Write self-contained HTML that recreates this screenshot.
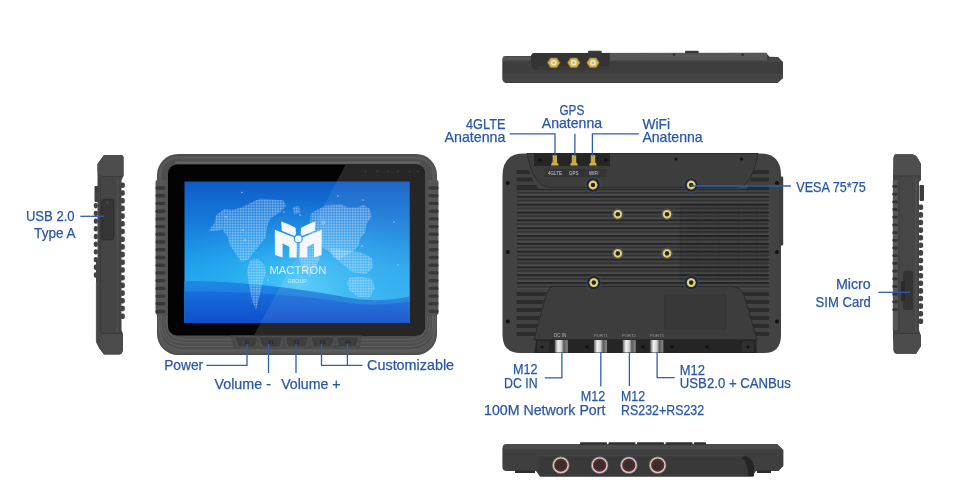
<!DOCTYPE html>
<html><head><meta charset="utf-8"><title>Rugged Tablet</title>
<style>
html,body{margin:0;padding:0;background:#fff;width:975px;height:501px;overflow:hidden}
svg{display:block}
text{font-family:"Liberation Sans",sans-serif;font-size:14.5px;fill:#2857aa}
.lbl text{stroke:#2857aa;stroke-width:0.25px}
svg{will-change:transform}
</style></head><body>
<svg width="975" height="501" viewBox="0 0 975 501">
<defs>
  <pattern id="dots" x="0" y="0" width="1.6" height="1.6" patternUnits="userSpaceOnUse">
    <rect width="1.6" height="1.6" fill="#9fd6ff" fill-opacity="0.1"/>
    <rect width="1" height="1" fill="#e4f4ff" fill-opacity="0.55"/>
  </pattern>
  <radialGradient id="glow" cx="300" cy="285" r="110" gradientUnits="userSpaceOnUse" gradientTransform="translate(300 285) scale(1.2 0.8) translate(-300 -285)">
    <stop offset="0" stop-color="#5fd8ff" stop-opacity="0.75"/>
    <stop offset="0.5" stop-color="#38bdf8" stop-opacity="0.35"/>
    <stop offset="1" stop-color="#2aa0f0" stop-opacity="0"/>
  </radialGradient>
  <linearGradient id="wave1" x1="0" y1="280" x2="0" y2="323" gradientUnits="userSpaceOnUse">
    <stop offset="0" stop-color="#1f8ae4"/>
    <stop offset="1" stop-color="#1668d8"/>
  </linearGradient>
  <linearGradient id="wave2" x1="0" y1="290" x2="0" y2="323" gradientUnits="userSpaceOnUse">
    <stop offset="0" stop-color="#1770dc"/>
    <stop offset="1" stop-color="#0f4fcb"/>
  </linearGradient>
  <linearGradient id="scr" x1="0" y1="0" x2="0" y2="1">
    <stop offset="0" stop-color="#0e5cc6"/>
    <stop offset="0.3" stop-color="#177ddb"/>
    <stop offset="0.6" stop-color="#20a2ec"/>
    <stop offset="1" stop-color="#28b6f4"/>
  </linearGradient>
  <linearGradient id="frameG" x1="0" y1="0" x2="0" y2="1">
    <stop offset="0" stop-color="#4a4a4a"/>
    <stop offset="1" stop-color="#525252"/>
  </linearGradient>
  <pattern id="ribs" x="0" y="188" width="10" height="7.72" patternUnits="userSpaceOnUse">
    <rect x="0" y="0" width="10" height="7.72" fill="#5a5a5a"/>
    <rect x="0" y="1.5" width="10" height="3.2" rx="1.6" fill="#3a3a3a"/>
  </pattern>
  <pattern id="vent" x="0" y="0.1" width="10" height="7.83" patternUnits="userSpaceOnUse">
    <rect width="10" height="7.83" fill="#4d4d4d"/>
    <rect y="0" width="10" height="1.9" fill="#232323"/>
    <rect y="1.9" width="10" height="0.7" fill="#3a3a3a"/>
    <rect y="3.5" width="10" height="0.6" fill="#3a3a3a"/>
    <rect y="4.1" width="10" height="1.4" fill="#2a2a2a"/>
    <rect y="5.5" width="10" height="0.6" fill="#3c3c3c"/>
  </pattern>
  <linearGradient id="cyl" x1="0" y1="0" x2="1" y2="0">
    <stop offset="0" stop-color="#6a6a6a"/>
    <stop offset="0.25" stop-color="#f2f2f2"/>
    <stop offset="0.5" stop-color="#cfcfcf"/>
    <stop offset="0.7" stop-color="#5a5a5a"/>
    <stop offset="1" stop-color="#8a8a8a"/>
  </linearGradient>
</defs>

<!-- ============ TOP VIEW (antennas) ============ -->
<g id="topview">
  <path d="M506 56 L531 56 L533 53 L766 52.7 L769.5 56.7 L778 57 L783 62 L783 78 L777.5 83 L507 83 Q502.3 83 502.3 78 L502.3 60 Q502.3 56 506 56 Z" fill="#3e3e3e"/>
  <rect x="503" y="56.5" width="30" height="4" fill="#545454"/>
  <rect x="609" y="53" width="158" height="7.5" fill="#575757"/>
  <path d="M769.5 57 L778 57.3 L782.5 62 L769.5 62 Z" fill="#474747"/>
  <rect x="503" y="60.5" width="278" height="1" fill="#4a4a4a"/>
  <path d="M503 74.5 H783 V78 L777.5 82.8 H507 Q503 82.8 503 78 Z" fill="#454545"/>
  <rect x="503" y="74.3" width="279" height="0.7" fill="#4c4c4c"/>
  <path d="M535 53 L609.7 53 L609.7 70 L538 70 Q531 70 531 63 L531 57 Q531 53 535 53 Z" fill="#343434"/>
  <path d="M538 66 L609.7 66 L609.7 70 L538 70 Z" fill="#3a3a3a"/>
  <rect x="588" y="50.7" width="13.7" height="2.8" rx="1" fill="#3a3a3a"/>
  <rect x="685" y="50.7" width="13.7" height="2.8" rx="1" fill="#3a3a3a"/>
  <g fill="#2a2a2a"><circle cx="674" cy="54.6" r="1.2"/><circle cx="742.7" cy="54.8" r="1.2"/></g>
  <g fill="#d2b24c" stroke="#9a7c2c" stroke-width="0.7"><polygon points="559.9,62.7 556.8,67.4 550.6,67.4 547.5,62.7 550.6,58.0 556.8,58.0"/><polygon points="579.9,62.7 576.8,67.4 570.6,67.4 567.5,62.7 570.6,58.0 576.8,58.0"/><polygon points="599.2,62.7 596.1,67.4 589.9,67.4 586.8,62.7 589.9,58.0 596.1,58.0"/></g>
  <g fill="#ece6c8"><circle cx="553.7" cy="62.7" r="2.9"/><circle cx="573.7" cy="62.7" r="2.9"/><circle cx="593" cy="62.7" r="2.9"/></g>
  <g fill="#b9b4a8"><circle cx="553.7" cy="62.7" r="1.3"/><circle cx="573.7" cy="62.7" r="1.3"/><circle cx="593" cy="62.7" r="1.3"/></g>
</g>

<!-- ============ BOTTOM VIEW (M12) ============ -->
<g id="botview">
  <path d="M507 444 H777 L783.4 450 V466 L778.5 471 H756 L752 476.5 H540 L536 471 H507 Q502.4 471 502.4 467 V449 Q502.4 444 507 444 Z" fill="#3f3f3f"/>
  <path d="M507 444 H777 L782.5 449.5 H502.8 V448 Q503 444 507 444 Z" fill="#4b4b4b"/>
  <g fill="#303030"><rect x="580" y="442.3" width="27" height="2.5" rx="0.8"/><rect x="608.5" y="442.3" width="27" height="2.5" rx="0.8"/><rect x="637" y="442.3" width="27" height="2.5" rx="0.8"/><rect x="665.5" y="442.3" width="27" height="2.5" rx="0.8"/><rect x="694" y="442.3" width="12" height="2.5" rx="0.8"/></g>
  <path d="M542 455.8 H744 Q753 455.8 754 465 L754 476.5 H540 L538.5 471 V459 Q538.5 455.8 542 455.8 Z" fill="#393939"/>
  <path d="M542 455.8 H744" stroke="#474747" stroke-width="0.8"/>
  <path d="M744 456 Q752 457 754 466 L754 476 L748 476 Q748 462 742 458 Z" fill="#252525"/>
  <g fill="#2c2c2c"><rect x="515" y="470.5" width="20" height="2.5"/><rect x="757" y="470.5" width="14" height="2.5"/></g>
  <g fill="#8a8a8a"><circle cx="560.8" cy="465.2" r="8.6"/><circle cx="599.6" cy="465.2" r="8.6"/><circle cx="628.8" cy="465.2" r="8.6"/><circle cx="657.7" cy="465.2" r="8.6"/></g>
  <g fill="#d6d6d6"><circle cx="560.8" cy="465.2" r="7.8"/><circle cx="599.6" cy="465.2" r="7.8"/><circle cx="628.8" cy="465.2" r="7.8"/><circle cx="657.7" cy="465.2" r="7.8"/></g>
  <g fill="#6e2222"><circle cx="560.8" cy="465.2" r="6.6"/><circle cx="599.6" cy="465.2" r="6.6"/><circle cx="628.8" cy="465.2" r="6.6"/><circle cx="657.7" cy="465.2" r="6.6"/></g>
  <g fill="#3a3434"><circle cx="560.8" cy="465.2" r="4.9"/><circle cx="599.6" cy="465.2" r="4.9"/><circle cx="628.8" cy="465.2" r="4.9"/><circle cx="657.7" cy="465.2" r="4.9"/></g>
  <g fill="#1e1e1e"><circle cx="563.8" cy="465.2" r="0.6"/><circle cx="562.9" cy="467.3" r="0.6"/><circle cx="560.8" cy="468.2" r="0.6"/><circle cx="558.7" cy="467.3" r="0.6"/><circle cx="557.8" cy="465.2" r="0.6"/><circle cx="558.7" cy="463.1" r="0.6"/><circle cx="560.8" cy="462.2" r="0.6"/><circle cx="562.9" cy="463.1" r="0.6"/><circle cx="560.8" cy="465.2" r="0.6"/><circle cx="602.6" cy="465.2" r="0.6"/><circle cx="601.7" cy="467.3" r="0.6"/><circle cx="599.6" cy="468.2" r="0.6"/><circle cx="597.5" cy="467.3" r="0.6"/><circle cx="596.6" cy="465.2" r="0.6"/><circle cx="597.5" cy="463.1" r="0.6"/><circle cx="599.6" cy="462.2" r="0.6"/><circle cx="601.7" cy="463.1" r="0.6"/><circle cx="599.6" cy="465.2" r="0.6"/><circle cx="631.8" cy="465.2" r="0.6"/><circle cx="630.9" cy="467.3" r="0.6"/><circle cx="628.8" cy="468.2" r="0.6"/><circle cx="626.7" cy="467.3" r="0.6"/><circle cx="625.8" cy="465.2" r="0.6"/><circle cx="626.7" cy="463.1" r="0.6"/><circle cx="628.8" cy="462.2" r="0.6"/><circle cx="630.9" cy="463.1" r="0.6"/><circle cx="628.8" cy="465.2" r="0.6"/><circle cx="660.7" cy="465.2" r="0.6"/><circle cx="659.8" cy="467.3" r="0.6"/><circle cx="657.7" cy="468.2" r="0.6"/><circle cx="655.6" cy="467.3" r="0.6"/><circle cx="654.7" cy="465.2" r="0.6"/><circle cx="655.6" cy="463.1" r="0.6"/><circle cx="657.7" cy="462.2" r="0.6"/><circle cx="659.8" cy="463.1" r="0.6"/><circle cx="657.7" cy="465.2" r="0.6"/></g>
</g>

<!-- ============ LEFT SIDE VIEW ============ -->
<g id="leftside">
  <path d="M104 155 L121 155 Q123.5 155 123.5 158 L123.5 176 L121.5 180 L121.5 330 L123 334 L123 350 Q122 354.5 119 354.5 L104 354.5 L99 348 L96 342 L96 262 L97.5 258 L97.5 178 L97.5 164 Z" fill="#454545"/>
  <path d="M104 155 L121 155 Q123.5 155 123.5 158 L123.5 176 L102 176 L97.5 172 L97.5 164 Z" fill="#4d4d4d"/>
  <path d="M101.5 176.5 H123" stroke="#383838" stroke-width="0.8"/>
  <path d="M102 334 H121 L123 336 L123 350 Q122 354.5 119 354.5 L104 354.5 L99 348 Z" fill="#4b4b4b"/>
  <path d="M101.5 333.5 H122" stroke="#383838" stroke-width="0.8"/>
  <path d="M100.5 178 V332" stroke="#3a3a3a" stroke-width="1"/>
  <path d="M96.5 282 V342" stroke="#575757" stroke-width="1.2"/>
  <path d="M117.5 178 V332" stroke="#4d4d4d" stroke-width="2"/>
  <rect x="94.5" y="186" width="4" height="16" rx="1" fill="#3e3e3e"/>
  <g fill="#424242"><rect x="120.5" y="182.5" width="4.3" height="5.6" rx="1.8"/><rect x="120.5" y="190.2" width="4.3" height="5.6" rx="1.8"/><rect x="120.5" y="197.9" width="4.3" height="5.6" rx="1.8"/><rect x="120.5" y="205.6" width="4.3" height="5.6" rx="1.8"/><rect x="120.5" y="213.3" width="4.3" height="5.6" rx="1.8"/><rect x="120.5" y="221.0" width="4.3" height="5.6" rx="1.8"/><rect x="120.5" y="228.7" width="4.3" height="5.6" rx="1.8"/><rect x="120.5" y="236.4" width="4.3" height="5.6" rx="1.8"/><rect x="120.5" y="244.1" width="4.3" height="5.6" rx="1.8"/><rect x="120.5" y="251.8" width="4.3" height="5.6" rx="1.8"/><rect x="120.5" y="259.5" width="4.3" height="5.6" rx="1.8"/><rect x="120.5" y="267.2" width="4.3" height="5.6" rx="1.8"/><rect x="120.5" y="274.9" width="4.3" height="5.6" rx="1.8"/><rect x="120.5" y="282.6" width="4.3" height="5.6" rx="1.8"/><rect x="120.5" y="290.3" width="4.3" height="5.6" rx="1.8"/><rect x="120.5" y="298.0" width="4.3" height="5.6" rx="1.8"/><rect x="120.5" y="305.7" width="4.3" height="5.6" rx="1.8"/><rect x="120.5" y="313.4" width="4.3" height="5.6" rx="1.8"/></g>
  <g fill="#424242"><rect x="93.8" y="203.0" width="4" height="5.4" rx="1.8"/><rect x="93.8" y="210.7" width="4" height="5.4" rx="1.8"/><rect x="93.8" y="218.4" width="4" height="5.4" rx="1.8"/><rect x="93.8" y="226.1" width="4" height="5.4" rx="1.8"/><rect x="93.8" y="233.8" width="4" height="5.4" rx="1.8"/><rect x="93.8" y="241.5" width="4" height="5.4" rx="1.8"/><rect x="93.8" y="249.2" width="4" height="5.4" rx="1.8"/><rect x="93.8" y="256.9" width="4" height="5.4" rx="1.8"/><rect x="93.8" y="264.6" width="4" height="5.4" rx="1.8"/><rect x="93.8" y="272.3" width="4" height="5.4" rx="1.8"/></g>
  <rect x="101" y="198.5" width="13.5" height="42" rx="3.5" fill="#363636"/>
  <rect x="102" y="199.5" width="11.5" height="40" rx="3" fill="none" stroke="#2c2c2c" stroke-width="0.8"/>
  <circle cx="107.5" cy="202.5" r="1" fill="#555"/>
</g>

<!-- ============ RIGHT SIDE VIEW ============ -->
<g id="rightside">
  <path d="M896 154.2 L912 154.2 Q915 154.2 917 157 L921 164 L921 180 L919 182 L919 330 L921 336 L921 346 L916 353.8 L897 353.8 Q894 353.8 893.5 350 L893 336 L893 176 L893.5 158 Q894 154.2 896 154.2 Z" fill="#464646"/>
  <path d="M896 154.2 L912 154.2 Q915 154.2 917 157 L921 164 L921 175.5 L894 175.5 L893.5 158 Q894 154.2 896 154.2 Z" fill="#4e4e4e"/>
  <path d="M894 176 H920" stroke="#383838" stroke-width="0.8"/>
  <path d="M894 334 H920 L921 336 L921 346 L916 353.8 L897 353.8 Q894 353.8 893.5 350 Z" fill="#4c4c4c"/>
  <path d="M894 333.5 H920" stroke="#383838" stroke-width="0.8"/>
  <path d="M916 178 V332" stroke="#555" stroke-width="1"/>
  <path d="M899 178 V332" stroke="#3c3c3c" stroke-width="0.8"/>
  <rect x="892.8" y="180" width="5" height="150" fill="#565656"/>
  <g fill="#333"><rect x="892.5" y="185.0" width="5" height="2.8" rx="0.8"/><rect x="892.5" y="192.7" width="5" height="2.8" rx="0.8"/><rect x="892.5" y="200.4" width="5" height="2.8" rx="0.8"/><rect x="892.5" y="208.1" width="5" height="2.8" rx="0.8"/><rect x="892.5" y="215.8" width="5" height="2.8" rx="0.8"/><rect x="892.5" y="223.5" width="5" height="2.8" rx="0.8"/><rect x="892.5" y="231.2" width="5" height="2.8" rx="0.8"/><rect x="892.5" y="238.9" width="5" height="2.8" rx="0.8"/><rect x="892.5" y="246.6" width="5" height="2.8" rx="0.8"/><rect x="892.5" y="254.3" width="5" height="2.8" rx="0.8"/><rect x="892.5" y="262.0" width="5" height="2.8" rx="0.8"/><rect x="892.5" y="269.7" width="5" height="2.8" rx="0.8"/><rect x="892.5" y="277.4" width="5" height="2.8" rx="0.8"/><rect x="892.5" y="285.1" width="5" height="2.8" rx="0.8"/><rect x="892.5" y="292.8" width="5" height="2.8" rx="0.8"/><rect x="892.5" y="300.5" width="5" height="2.8" rx="0.8"/><rect x="892.5" y="308.2" width="5" height="2.8" rx="0.8"/></g>
  <rect x="919.5" y="185" width="4.5" height="16" rx="1.2" fill="#3c3c3c"/>
  <g fill="#424242"><rect x="918.3" y="204.5" width="4.8" height="5.6" rx="1.8"/><rect x="918.3" y="212.1" width="4.8" height="5.6" rx="1.8"/><rect x="918.3" y="219.7" width="4.8" height="5.6" rx="1.8"/><rect x="918.3" y="227.3" width="4.8" height="5.6" rx="1.8"/><rect x="918.3" y="234.9" width="4.8" height="5.6" rx="1.8"/><rect x="918.3" y="242.5" width="4.8" height="5.6" rx="1.8"/><rect x="918.3" y="250.1" width="4.8" height="5.6" rx="1.8"/><rect x="918.3" y="257.7" width="4.8" height="5.6" rx="1.8"/><rect x="918.3" y="265.3" width="4.8" height="5.6" rx="1.8"/><rect x="918.3" y="272.9" width="4.8" height="5.6" rx="1.8"/><rect x="918.3" y="280.5" width="4.8" height="5.6" rx="1.8"/><rect x="918.3" y="288.1" width="4.8" height="5.6" rx="1.8"/><rect x="918.3" y="295.7" width="4.8" height="5.6" rx="1.8"/><rect x="918.3" y="303.3" width="4.8" height="5.6" rx="1.8"/><rect x="918.3" y="310.9" width="4.8" height="5.6" rx="1.8"/><rect x="918.3" y="318.5" width="4.8" height="5.6" rx="1.8"/></g>
  <rect x="903" y="270.8" width="10" height="39.2" rx="3" fill="#333"/>
  <rect x="901" y="281" width="4" height="20" rx="1" fill="#2a2a2a"/>
</g>

<!-- ============ FRONT VIEW ============ -->
<g id="front">
  <rect x="157" y="154" width="280" height="201" rx="21" fill="#4e4e4e"/>
  <rect x="160" y="157.5" width="274" height="194" rx="18" fill="none" stroke="#585858" stroke-width="3"/>
  <path d="M175 162.5 H420" stroke="#666" stroke-width="2"/>
  <rect x="155.5" y="180" width="11" height="135" rx="2" fill="#555"/>
  <rect x="427.5" y="180" width="11" height="135" rx="2" fill="#555"/>
  <g fill="#383838"><rect x="155.5" y="186.3" width="10" height="3.4" rx="1.7"/><rect x="155.5" y="194.0" width="10" height="3.4" rx="1.7"/><rect x="155.5" y="201.7" width="10" height="3.4" rx="1.7"/><rect x="155.5" y="209.5" width="10" height="3.4" rx="1.7"/><rect x="155.5" y="217.2" width="10" height="3.4" rx="1.7"/><rect x="155.5" y="224.9" width="10" height="3.4" rx="1.7"/><rect x="155.5" y="232.6" width="10" height="3.4" rx="1.7"/><rect x="155.5" y="240.3" width="10" height="3.4" rx="1.7"/><rect x="155.5" y="248.1" width="10" height="3.4" rx="1.7"/><rect x="155.5" y="255.8" width="10" height="3.4" rx="1.7"/><rect x="155.5" y="263.5" width="10" height="3.4" rx="1.7"/><rect x="155.5" y="271.2" width="10" height="3.4" rx="1.7"/><rect x="155.5" y="278.9" width="10" height="3.4" rx="1.7"/><rect x="155.5" y="286.7" width="10" height="3.4" rx="1.7"/><rect x="155.5" y="294.4" width="10" height="3.4" rx="1.7"/><rect x="155.5" y="302.1" width="10" height="3.4" rx="1.7"/><rect x="155.5" y="309.8" width="10" height="3.4" rx="1.7"/><rect x="428.5" y="186.3" width="10" height="3.4" rx="1.7"/><rect x="428.5" y="194.0" width="10" height="3.4" rx="1.7"/><rect x="428.5" y="201.7" width="10" height="3.4" rx="1.7"/><rect x="428.5" y="209.5" width="10" height="3.4" rx="1.7"/><rect x="428.5" y="217.2" width="10" height="3.4" rx="1.7"/><rect x="428.5" y="224.9" width="10" height="3.4" rx="1.7"/><rect x="428.5" y="232.6" width="10" height="3.4" rx="1.7"/><rect x="428.5" y="240.3" width="10" height="3.4" rx="1.7"/><rect x="428.5" y="248.1" width="10" height="3.4" rx="1.7"/><rect x="428.5" y="255.8" width="10" height="3.4" rx="1.7"/><rect x="428.5" y="263.5" width="10" height="3.4" rx="1.7"/><rect x="428.5" y="271.2" width="10" height="3.4" rx="1.7"/><rect x="428.5" y="278.9" width="10" height="3.4" rx="1.7"/><rect x="428.5" y="286.7" width="10" height="3.4" rx="1.7"/><rect x="428.5" y="294.4" width="10" height="3.4" rx="1.7"/><rect x="428.5" y="302.1" width="10" height="3.4" rx="1.7"/><rect x="428.5" y="309.8" width="10" height="3.4" rx="1.7"/></g>
  <g fill="none" stroke="#626262" stroke-width="0.9"><path d="M166.5 316 V321.9 Q166.5 339.3 183.9 339.3 H410.1 Q427.5 339.3 427.5 321.9 V316"/><path d="M163.9 316 V322.3 Q163.9 342.9 184.5 342.9 H409.5 Q430.1 342.9 430.1 322.3 V316"/><path d="M161.3 316 V322.6 Q161.3 346.5 185.2 346.5 H408.8 Q432.7 346.5 432.7 322.6 V316"/><path d="M158.7 316 V323.0 Q158.7 350.1 185.8 350.1 H408.2 Q435.3 350.1 435.3 323.0 V316"/></g>
  
  <rect x="168" y="164.5" width="257" height="171" rx="9" fill="#030303"/>
  <clipPath id="bezclip"><rect x="168" y="164.5" width="257" height="171" rx="9"/></clipPath>
  <path d="M346 164 L425 164 L425 336 L253.6 336 Z" fill="#262626" clip-path="url(#bezclip)"/>
  <g fill="#3c3c3c"><circle cx="365.6" cy="171.5" r="0.9"/><circle cx="377.5" cy="171.5" r="0.9"/><circle cx="388" cy="171.5" r="0.9"/><circle cx="397.7" cy="171.5" r="0.9"/><circle cx="409.6" cy="171.5" r="0.9"/><circle cx="418" cy="171.5" r="0.9"/></g>
  <g id="screen">
    <rect x="184.5" y="181.5" width="225.2" height="141.3" fill="url(#scr)"/>
    <rect x="184.5" y="181.5" width="225.2" height="141.3" fill="url(#glow)"/>
    <path d="M184.5 281 C230 280 300 288 350 298 C375 302 395 300 409.7 296 L409.7 323 L184.5 323 Z" fill="url(#wave1)"/>
    <path d="M184.5 291.5 C240 291 300 295 350 303 C375 306 395 304 409.7 301.5 L409.7 323 L184.5 323 Z" fill="url(#wave2)"/>
    <g fill="url(#dots)"><path d="M208.8 230.5 L214.4 223.3 L216 215.4 L224 209 L232 209.8 L241.5 207.4 L248 204.2 L254.3 201 L260.7 198.6 L271.9 199.4 L283 200.2 L286.3 205.8 L279.9 212.2 L270.3 218.5 L267.1 226.5 L265.5 237.7 L259.1 245.7 L252.7 253.7 L247.9 260.1 L241.5 261.7 L236.7 255.3 L230.4 245.7 L227.2 236.1 L222.4 229.7 L212.8 231.3 Z"/><path d="M250 260 L258 259 L264 264 L266 272 L262 285 L259 298 L256 310 L252 300 L249 285 L247 270 Z"/><path d="M310.8 213.8 L315.6 210.6 L325.1 205.8 L341.1 204.2 L347.5 207.4 L357.1 207.4 L363.5 205 L369.9 209 L371.5 217 L366.7 223.3 L365.1 232.9 L360.3 237.7 L358.7 245.7 L353.9 250.5 L345 256 L338 260 L330 252 L320 246 L312 242 L309 235 L310 222 Z"/><path d="M293 207 L299 206 L300 213 L294 214 Z"/><path d="M296 241 L312 240 L318 248 L320 258 L316 268 L310 276 L304 272 L300 262 L297 252 Z"/><path d="M330 248 L345 250 L360 252 L372 258 L373 268 L366 274 L352 272 L340 262 L332 256 Z"/><path d="M348.6 278 L360 276.4 L372 279 L374.7 288 L370 297.3 L358 297 L350 291 L347 284 Z"/></g>
    <g fill="#e8f8ff" opacity="0.7"><circle cx="242" cy="192.5" r="0.75"/><circle cx="226" cy="217" r="0.75"/><circle cx="243" cy="230" r="0.75"/><circle cx="245" cy="240" r="0.75"/><circle cx="284" cy="212" r="0.75"/><circle cx="338" cy="196" r="0.75"/><circle cx="363" cy="200" r="0.75"/><circle cx="394" cy="222" r="0.75"/><circle cx="300" cy="215" r="0.75"/><circle cx="398" cy="265" r="0.75"/><circle cx="268" cy="280" r="0.75"/><circle cx="362" cy="246" r="0.75"/></g>
    <path d="M337 181.5 L409.7 181.5 L409.7 322.8 L260.7 322.8 Z" fill="#ffffff" opacity="0.08"/>
    <g fill="#f4f8fc">
      <g id="logoL">
        <path d="M274.8 229.7 L294.3 237.6 L296.8 242.5 L296.8 257.4 L289.3 257.4 L289.3 246.8 L282.6 243.4 L282.6 257.4 L275 254.9 Z"/>
        <path d="M281.2 221.4 Q288.5 223.6 295.5 227.8 L296 234 L294.5 236 L281.8 230.8 Z"/>
      </g>
      <use href="#logoL" transform="translate(596.6 0) scale(-1 1)"/>
      <circle cx="298.3" cy="238.9" r="3.9" stroke="#2f96e6" stroke-width="1.2"/>
    </g>
    <circle cx="323.5" cy="222.5" r="1.4" fill="none" stroke="#dbefff" stroke-width="0.5"/>
    <text x="269.5" y="274.3" textLength="56.8" lengthAdjust="spacingAndGlyphs" style="font-size:11.5px;fill:#eef6ff;fill-opacity:0.88">MACTRON</text>
    <text x="287.4" y="283.2" textLength="19.5" lengthAdjust="spacingAndGlyphs" style="font-size:5px;fill:#d8ecff">GROUP</text>
  </g>
  <path d="M230.5 335.5 H362.5 L359 349.5 H234 Z" fill="#4a4a4a"/>
  <path d="M232 349.5 H361" stroke="#5c5c5c" stroke-width="0.8"/>
  <g fill="#3e3e3e" stroke="#575757" stroke-width="0.8">
    <path d="M237 336.8 H256 Q258.5 336.8 257.6 339 L255.8 345 Q255.2 347 253 347 H240 Q237.8 347 237.2 345 L235.4 339 Q234.6 336.8 237 336.8 Z"/>
    <path d="M261.2 336.8 H280.6 Q283 336.8 282.2 339 L280.4 345 Q279.8 347 277.6 347 H264.2 Q262 347 261.4 345 L259.6 339 Q258.8 336.8 261.2 336.8 Z"/>
    <path d="M287 336.8 H306.6 Q309 336.8 308.2 339 L306.4 345 Q305.8 347 303.6 347 H290 Q287.8 347 287.2 345 L285.4 339 Q284.6 336.8 287 336.8 Z"/>
    <path d="M312.6 336.8 H332.6 Q335 336.8 334.2 339 L332.4 345 Q331.8 347 329.6 347 H315.6 Q313.4 347 312.8 345 L311 339 Q310.2 336.8 312.6 336.8 Z"/>
    <path d="M338 336.8 H357 Q359.4 336.8 358.6 339 L356.8 345 Q356.2 347 354 347 H341 Q338.8 347 338.2 345 L336.4 339 Q335.6 336.8 338 336.8 Z"/>
  </g>
  <g style="font-size:4.6px;fill:#1c1c1c">
    <text x="244.6" y="343.6" style="font-size:5px;fill:#1c1c1c">&#x23FB;</text>
    <text x="268.4" y="343.6" style="font-size:4.6px;fill:#1c1c1c">F1</text>
    <text x="294.2" y="343.6" style="font-size:4.6px;fill:#1c1c1c">F2</text>
    <text x="320.2" y="343.6" style="font-size:4.6px;fill:#1c1c1c">F3</text>
    <text x="345.4" y="343.6" style="font-size:4.6px;fill:#1c1c1c">F4</text>
  </g>
</g>
</g>

<!-- ============ BACK VIEW ============ -->
<g id="back">
  <path d="M524 153.5 H760 Q781 153.5 781 175 V335 Q781 353 764 353 H520 Q502.5 353 502.5 335 V176 Q502.5 153.5 524 153.5 Z" fill="#424242"/>
  <rect x="779" y="176.5" width="4.2" height="69" rx="1.2" fill="#3d3d3d"/>
  <rect x="517" y="189" width="252" height="100" fill="url(#vent)"/>
  <rect x="680" y="203" width="88" height="78" fill="#000" opacity="0.07"/>
  <g stroke="#2a2a2a" stroke-width="0.9" opacity="0.3"><path d="M680.1 203 V281"/><path d="M697.7 203 V281"/><path d="M718.5 203 V281"/><path d="M738.3 203 V281"/><path d="M757 203 V281"/></g>
  <g fill="#2c2c2c">
    <path d="M516.5 170 H529 L530.5 174 H516.5 Z"/><path d="M516.5 177.5 H532 L533.5 181.5 H516.5 Z"/><path d="M516.5 185 H536 L538 189 H516.5 Z"/>
    <path d="M769 170 H753.5 L752.5 174 H769 Z"/><path d="M769 177.5 H751 L750 181.5 H769 Z"/><path d="M769 185 H748 L747 189 H769 Z"/>
  </g>
  <path d="M527 153.5 H758 C754 172 750 186 736 187.5 H550 C536 186 531 172 527 153.5 Z" fill="#3d3d3d" stroke="#2b2b2b" stroke-width="1"/>
  <path d="M534 153.5 H610 V166 H534 Z" fill="#262626"/>
  <rect x="544.5" y="169" width="62" height="8" fill="#343434"/>
  <g fill="#cfcfcf" font-size="4.2px">
    <text x="548" y="175" style="font-size:4.5px;fill:#d0d0d0">4GLTE</text>
    <text x="569" y="175" style="font-size:4.5px;fill:#d0d0d0">GPS</text>
    <text x="589" y="175" style="font-size:4.5px;fill:#d0d0d0">WIFI</text>
  </g>
  <g fill="#111"><circle cx="540" cy="160" r="1.8"/><circle cx="606" cy="160" r="1.8"/><circle cx="676" cy="159" r="1.6"/><circle cx="741.5" cy="159" r="1.6"/>
    <circle cx="507.7" cy="183" r="2"/><circle cx="777" cy="183" r="2"/><circle cx="507.7" cy="252" r="2"/><circle cx="777" cy="252" r="2"/><circle cx="507.7" cy="321.5" r="2"/><circle cx="777" cy="321.5" r="2"/></g>
  <g fill="#2c2c2c">
    <path d="M516.5 292 H546 L544.5 296 H516.5 Z"/><path d="M516.5 300 H544 L542.5 304 H516.5 Z"/><path d="M516.5 308 H542 L540.5 312 H516.5 Z"/><path d="M516.5 316 H540 L538.5 320 H516.5 Z"/><path d="M516.5 324 H538 L536.5 328 H516.5 Z"/><path d="M516.5 332 H536 L534.5 336 H516.5 Z"/>
    <path d="M769 292 H740 L741.5 296 H769 Z"/><path d="M769 300 H742 L743.5 304 H769 Z"/><path d="M769 308 H744 L745.5 312 H769 Z"/><path d="M769 316 H746.5 L748 320 H769 Z"/><path d="M769 324 H749 L750.5 328 H769 Z"/><path d="M769 332 H751.5 L753 336 H769 Z"/>
  </g>
  <path d="M553 286.5 H731 Q741 286.5 744 295 L757 340 H534 L546 295 Q549 286.5 553 286.5 Z" fill="#3d3d3d" stroke="#2b2b2b" stroke-width="1"/>
  <rect x="664.8" y="295" width="61.2" height="34" fill="#383838" stroke="#333" stroke-width="0.6"/>
  <path d="M536 339.5 H756 L757 353 H534.5 Z" fill="#252525"/>
  <g fill="#303030"><rect x="537" y="341" width="12" height="11" rx="2"/><rect x="742" y="341" width="12" height="11" rx="2"/></g>
  <g fill="#111"><circle cx="542" cy="347" r="1.6"/><circle cx="587" cy="347" r="1.6"/><circle cx="643" cy="347" r="1.6"/><circle cx="672" cy="347" r="1.6"/><circle cx="707" cy="347" r="1.6"/><circle cx="748" cy="347" r="1.6"/></g>
  <g>
    <rect x="554.8" y="340" width="13" height="12.5" fill="url(#cyl)"/>
    <rect x="594" y="340" width="13" height="12.5" fill="url(#cyl)"/>
    <rect x="622.7" y="340" width="13" height="12.5" fill="url(#cyl)"/>
    <rect x="650.3" y="340" width="13" height="12.5" fill="url(#cyl)"/>
  </g>
  <g fill="#cfcfcf">
    <text x="554" y="336.5" style="font-size:4.5px;fill:#bbb">DC IN</text>
    <text x="594" y="336.5" style="font-size:4.2px;fill:#999">PORT1</text>
    <text x="622" y="336.5" style="font-size:4.2px;fill:#999">PORT2</text>
    <text x="650" y="336.5" style="font-size:4.2px;fill:#999">PORT3</text>
  </g>
  <g fill="none" stroke="#2b4a7e" stroke-width="1.3" opacity="0.6"><circle cx="593" cy="185" r="7.4"/><circle cx="691.2" cy="185" r="7.4"/><circle cx="593.8" cy="282.6" r="7.4"/><circle cx="691.2" cy="282.6" r="7.4"/></g>
  <g fill="#262626"><circle cx="593" cy="185" r="6.6"/><circle cx="691.2" cy="185" r="6.6"/><circle cx="593.8" cy="282.6" r="6.6"/><circle cx="691.2" cy="282.6" r="6.6"/></g><g fill="#4e4e4e"><circle cx="617.8" cy="214.2" r="5.9"/><circle cx="667" cy="214.2" r="5.9"/><circle cx="617.8" cy="253.4" r="5.9"/><circle cx="667" cy="253.4" r="5.9"/></g>
  <g fill="#e9df8e"><circle cx="593" cy="185" r="4.4"/><circle cx="691.2" cy="185" r="4.4"/><circle cx="593.8" cy="282.6" r="4.4"/><circle cx="691.2" cy="282.6" r="4.4"/><circle cx="617.8" cy="214.2" r="4.2"/><circle cx="667" cy="214.2" r="4.2"/><circle cx="617.8" cy="253.4" r="4.2"/><circle cx="667" cy="253.4" r="4.2"/></g>
  <g fill="none" stroke="#c9b04a" stroke-width="0.6"><circle cx="593" cy="185" r="4"/><circle cx="691.2" cy="185" r="4"/><circle cx="593.8" cy="282.6" r="4"/><circle cx="691.2" cy="282.6" r="4"/><circle cx="617.8" cy="214.2" r="4"/><circle cx="667" cy="214.2" r="4"/><circle cx="617.8" cy="253.4" r="4"/><circle cx="667" cy="253.4" r="4"/></g>
  <g fill="#2a2622"><circle cx="593" cy="185" r="2.3"/><circle cx="691.2" cy="185" r="2.3"/><circle cx="593.8" cy="282.6" r="2.3"/><circle cx="691.2" cy="282.6" r="2.3"/><circle cx="617.8" cy="214.2" r="2.3"/><circle cx="667" cy="214.2" r="2.3"/><circle cx="617.8" cy="253.4" r="2.3"/><circle cx="667" cy="253.4" r="2.3"/></g>
  <g>
    <path d="M551 165.5 Q551 162 554.8 162 Q558.6 162 558.6 165.5 Z" fill="#d0b04a"/>
    <rect x="552.6" y="155" width="4.4" height="8" fill="#c9a844"/>
    <path d="M570.2 165.5 Q570.2 162 574 162 Q577.8 162 577.8 165.5 Z" fill="#d0b04a"/>
    <rect x="571.8" y="155" width="4.4" height="8" fill="#c9a844"/>
    <path d="M589.2 165.5 Q589.2 162 593 162 Q596.8 162 596.8 165.5 Z" fill="#d0b04a"/>
    <rect x="590.8" y="155" width="4.4" height="8" fill="#c9a844"/>
  </g>
</g>

<!-- ============ LEADER LINES ============ -->
<g stroke="#2d5fae" stroke-width="1.3" fill="none">
  <path d="M80.3 216.3 H103.8"/>
  <path d="M206.3 365.3 H247 V344"/>
  <path d="M268.5 344 V373"/>
  <path d="M296 344 V373"/>
  <path d="M321.5 344 V365.4 H362.5 M347.4 344 V365.4"/>
  <path d="M509.7 133.8 H555 V156"/>
  <path d="M574.9 133.8 V156"/>
  <path d="M638.9 133.8 H592.4 V156"/>
  <path d="M691 186 H790.9"/>
  <path d="M878.4 292.3 H910"/>
  <path d="M544.7 377.9 H561.9 V352"/>
  <path d="M600.8 352 V386.4"/>
  <path d="M629.4 352 V386"/>
  <path d="M657.1 352 V377.7 H674.6"/>
</g>

<!-- ============ LABELS ============ -->
<g class="lbl">
  <text x="25.9" y="221.2" textLength="48.7" lengthAdjust="spacingAndGlyphs">USB 2.0</text>
  <text x="34.1" y="238.1" textLength="41.5" lengthAdjust="spacingAndGlyphs">Type A</text>
  <text x="164.2" y="370.4" textLength="39" lengthAdjust="spacingAndGlyphs">Power</text>
  <text x="214.5" y="388.5" textLength="56.4" lengthAdjust="spacingAndGlyphs">Volume -</text>
  <text x="281.2" y="388.5" textLength="59.4" lengthAdjust="spacingAndGlyphs">Volume +</text>
  <text x="367.1" y="370.4" textLength="87" lengthAdjust="spacingAndGlyphs">Customizable</text>
  <text x="466" y="128.6" textLength="39.4" lengthAdjust="spacingAndGlyphs">4GLTE</text>
  <text x="444.5" y="142.4" textLength="60.9" lengthAdjust="spacingAndGlyphs">Anatenna</text>
  <text x="559.4" y="114.5" textLength="24.9" lengthAdjust="spacingAndGlyphs">GPS</text>
  <text x="541.8" y="128" textLength="60.3" lengthAdjust="spacingAndGlyphs">Anatenna</text>
  <text x="642.4" y="128.6" textLength="27.6" lengthAdjust="spacingAndGlyphs">WiFi</text>
  <text x="642.4" y="142.4" textLength="60.3" lengthAdjust="spacingAndGlyphs">Anatenna</text>
  <text x="796.2" y="191.7" textLength="69.7" lengthAdjust="spacingAndGlyphs">VESA 75*75</text>
  <text x="835.9" y="289.4" textLength="34.9" lengthAdjust="spacingAndGlyphs">Micro</text>
  <text x="815.6" y="306.7" textLength="55.2" lengthAdjust="spacingAndGlyphs">SIM Card</text>
  <text x="513" y="374.3" textLength="24.6" lengthAdjust="spacingAndGlyphs">M12</text>
  <text x="504.1" y="388.1" textLength="33.5" lengthAdjust="spacingAndGlyphs">DC IN</text>
  <text x="580.8" y="401.2" textLength="24.6" lengthAdjust="spacingAndGlyphs">M12</text>
  <text x="484" y="414.8" textLength="121.4" lengthAdjust="spacingAndGlyphs">100M Network Port</text>
  <text x="621.1" y="401.1" textLength="23.9" lengthAdjust="spacingAndGlyphs">M12</text>
  <text x="621.1" y="415" textLength="83" lengthAdjust="spacingAndGlyphs">RS232+RS232</text>
  <text x="679.8" y="374.6" textLength="25.2" lengthAdjust="spacingAndGlyphs">M12</text>
  <text x="679.8" y="388.4" textLength="111" lengthAdjust="spacingAndGlyphs">USB2.0 + CANBus</text>
</g>
</svg>
</body></html>
